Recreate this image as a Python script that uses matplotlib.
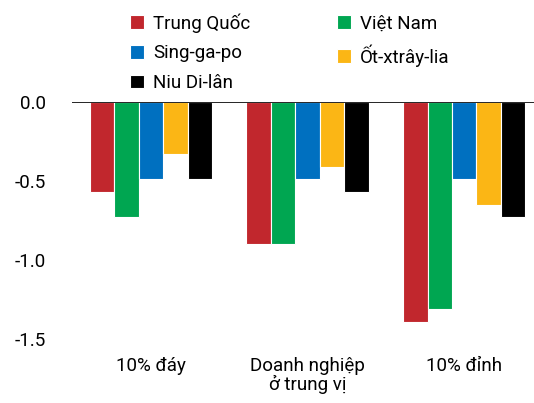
import numpy as np
import matplotlib
matplotlib.use('Agg')
import matplotlib.pyplot as plt

plt.rcParams['font.family'] = ['Roboto', 'DejaVu Sans']

# Data
categories = ['10% đáy', 'Doanh nghiệp\nở trung vị', '10% đỉnh']
countries = ['Trung Quốc', 'Việt Nam', 'Sing-ga-po', 'Ốt-xtrây-lia', 'Niu Di-lân']
china = [-0.57, -0.90, -1.39]
vietnam = [-0.73, -0.90, -1.31]
singapore = [-0.49, -0.49, -0.49]
australia = [-0.33, -0.41, -0.65]
new_zealand = [-0.49, -0.57, -0.73]
colors = ['#C1272D', '#00A651', '#0070C0', '#FBB615', '#000000']

series = [china, vietnam, singapore, australia, new_zealand]

fig = plt.figure(figsize=(5.34, 4.03), dpi=100)
ax = fig.add_axes([0.135, 0.159, 0.865, 0.588])

x = np.arange(len(categories))
width = 0.156
bars = []
for i, (vals, name, col) in enumerate(zip(series, countries, colors)):
    offset = (i - 2) * width
    b = ax.bar(x + offset, vals, width, color=col, label=name,
               edgecolor='white', linewidth=0.8, zorder=2)
    bars.append(b)

ax.axhline(0, color='black', linewidth=1.2, zorder=3)

ax.set_xlim(-0.503, 2.445)
ax.set_ylim(-1.5, 0)
ax.set_yticks([0.0, -0.5, -1.0, -1.5])
ax.set_yticklabels(['0.0', '-0.5', '-1.0', '-1.5'])
ax.set_xticks(x)
ax.set_xticklabels(categories, linespacing=1.0)
ax.tick_params(axis='both', length=0, labelsize=13.5)
ax.tick_params(axis='y', pad=19)
ax.tick_params(axis='x', pad=13)
for s in ax.spines.values():
    s.set_visible(False)

# legend filled row by row like the original
order = [0, 2, 4, 1, 3]
fig.legend([bars[i] for i in order], [countries[i] for i in order],
           loc='upper left', bbox_to_anchor=(0.222, 0.995), ncol=2,
           frameon=False, fontsize=13.5, handlelength=0.75, handleheight=0.75,
           handletextpad=0.5, columnspacing=4.6, labelspacing=0.62,
           borderaxespad=0.2)

fig.savefig('out.png', dpi=100)
